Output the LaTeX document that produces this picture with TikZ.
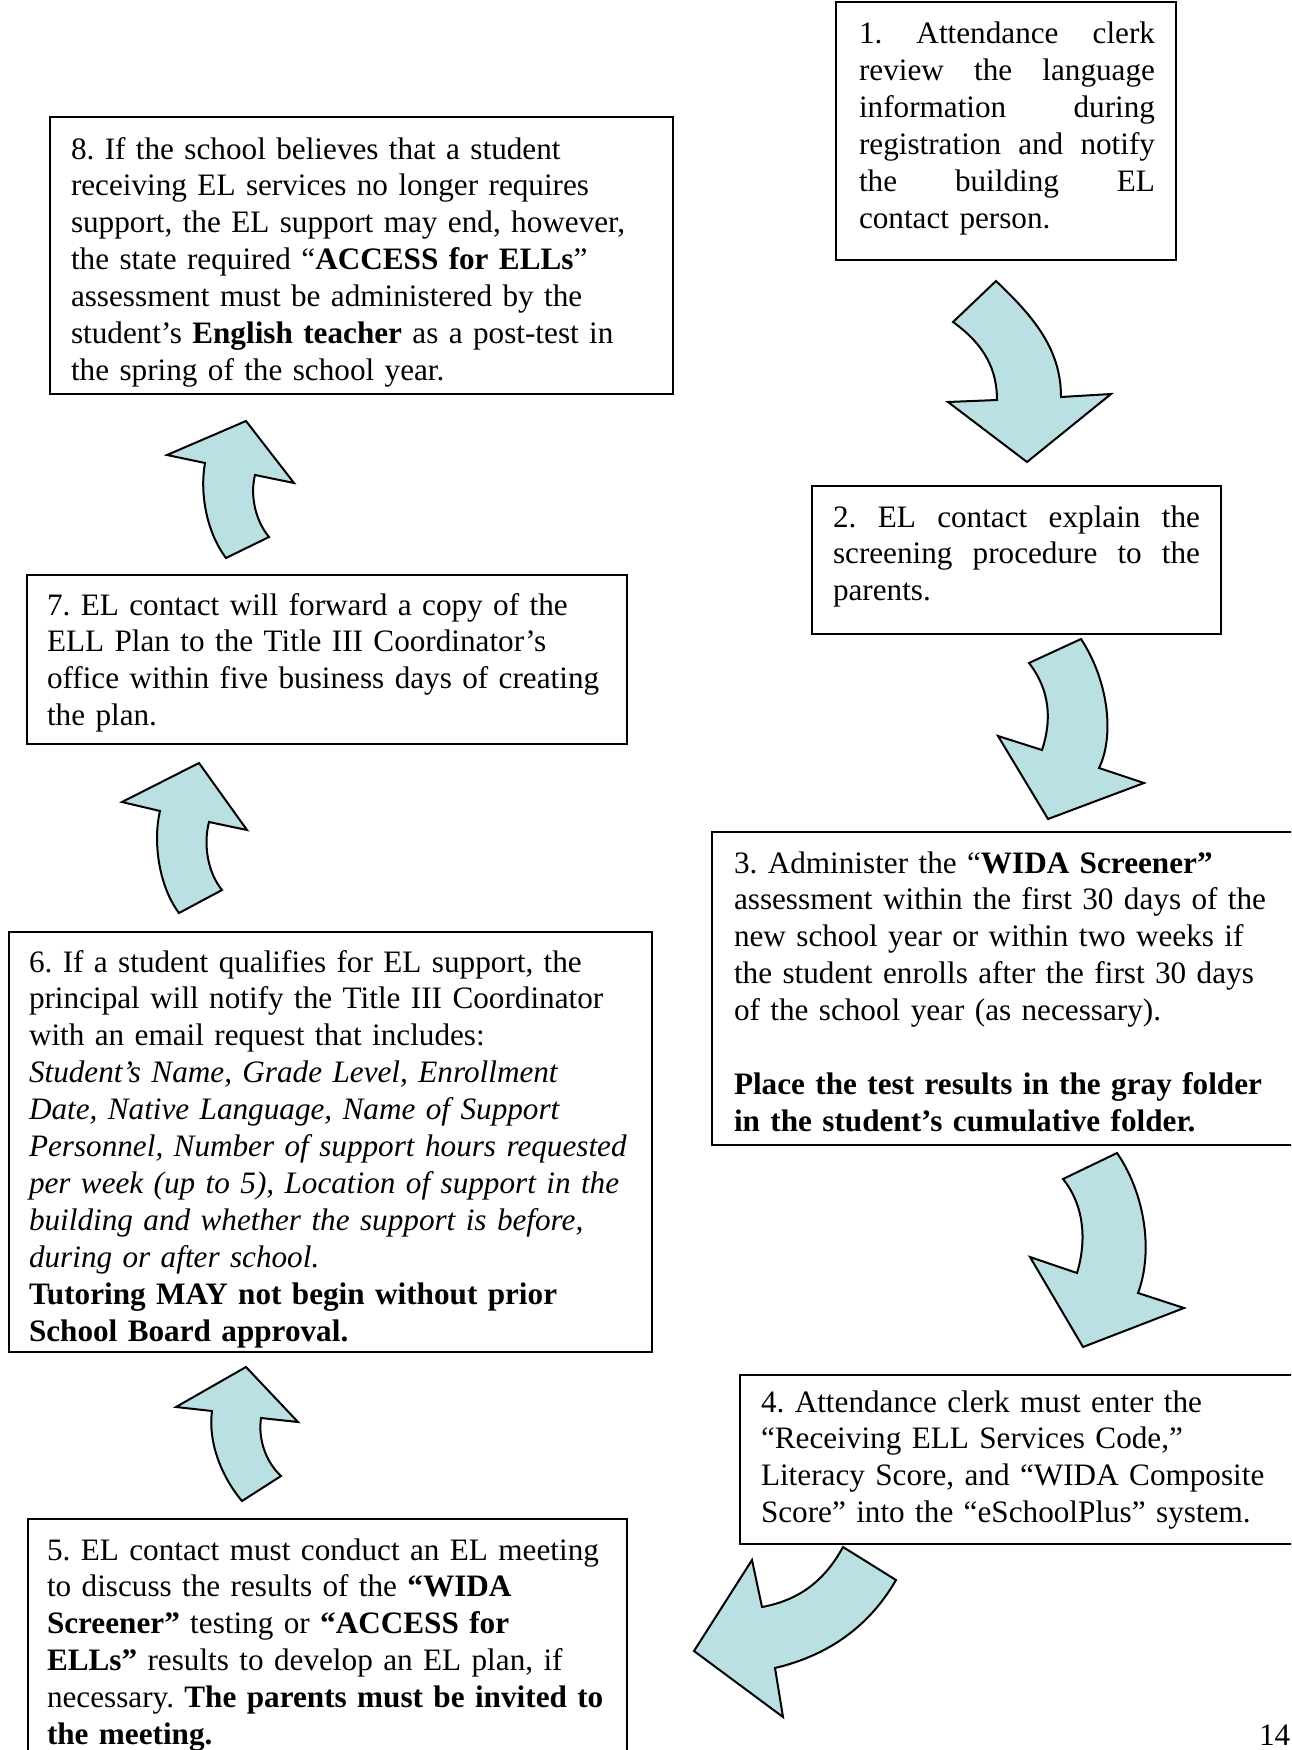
\documentclass[tikz,border=0pt]{standalone}
\usepackage{fontspec}
\setmainfont{Liberation Serif}
\usetikzlibrary{fit}
\definecolor{arrowblue}{RGB}{187,224,227}
\tikzset{
  framebox/.style={draw=black, line width=0.9pt, inner sep=0pt, outer sep=0pt, fill=none},
  bodytext/.style={anchor=base west, inner sep=0pt, outer sep=0pt, align=left,
    font=\fontsize{15.6pt}{18.45pt}\selectfont\frenchspacing},
  justtext/.style={anchor=base west, inner sep=0pt, outer sep=0pt, align=left,
    font=\fontsize{15.6pt}{18.45pt}\selectfont\frenchspacing},
  bluearrow/.style={fill=arrowblue, draw=black, line width=1pt, line join=miter}
}
\newcommand{\jline}[2]{\leavevmode\hbox to #1{#2}}
\begin{document}
\begin{tikzpicture}[x=0.5pt, y=-0.5pt]
\useasboundingbox (0,0) rectangle (1291,1750);
\clip (0,0) rectangle (1291,1750);
\fill[white] (0,0) rectangle (1291,1750);

% boxes
\node[framebox, fit={(836,2) (1176,260)}] (b1) {};
\node[framebox, fit={(812,486) (1221,634)}] (b2) {};
\node[framebox, fit={(712,832) (1310,1145)}] (b3) {};
\node[framebox, fit={(740,1375) (1310,1544)}] (b4) {};
\node[framebox, fit={(28,1519) (627,1800)}] (b5) {};
\node[framebox, fit={(9,932) (652,1352)}] (b6) {};
\node[framebox, fit={(27,575) (627,744)}] (b7) {};
\node[framebox, fit={(50,117) (673,394)}] (b8) {};

% texts
\node[justtext, text width=148pt] (t1) at (859,44) {%
\jline{148pt}{1.\hfill Attendance\hfill clerk}\\
\jline{148pt}{review\hfill the\hfill language}\\
\jline{148pt}{information\hfill during}\\
\jline{148pt}{registration\hfill and\hfill notify}\\
\jline{148pt}{the\hfill building\hfill EL}\\
contact person.};

\node[justtext, text width=183.5pt] (t2) at (833,527) {%
\jline{183.5pt}{2.\hfill EL\hfill contact\hfill explain\hfill the}\\
\jline{183.5pt}{screening\hfill procedure\hfill to\hfill the}\\
parents.};

\node[bodytext, text width=285pt] (t3) at (734,873) {%
3. Administer the “\textbf{WIDA Screener”}\\
assessment within the first 30 days of the\\
new school year or within two weeks if\\
the student enrolls after the first 30 days\\
of the school year (as necessary).\\[18.45pt]
\textbf{Place the test results in the gray folder}\\
\textbf{in the student’s cumulative folder.}};

\node[bodytext, text width=270pt] (t4) at (761,1412) {%
4. Attendance clerk must enter the\\
“Receiving ELL Services Code,”\\
Literacy Score, and “WIDA Composite\\
Score” into the “eSchoolPlus” system.};

\node[bodytext, text width=290pt] (t5) at (47,1560) {%
5. EL contact must conduct an EL meeting\\
to discuss the results of the \textbf{“WIDA}\\
\textbf{Screener”} testing or \textbf{“ACCESS for}\\
\textbf{ELLs”} results to develop an EL plan, if\\
necessary. \textbf{The parents must be invited to}\\
\textbf{the meeting.}};

\node[bodytext, text width=310pt] (t6) at (29,972) {%
6. If a student qualifies for EL support, the\\
principal will notify the Title III Coordinator\\
with an email request that includes:\\
\textit{Student’s Name, Grade Level, Enrollment}\\
\textit{Date, Native Language, Name of Support}\\
\textit{Personnel, Number of support hours requested}\\
\textit{per week (up to 5), Location of support in the}\\
\textit{building and whether the support is before,}\\
\textit{during or after school.}\\
\textbf{Tutoring MAY not begin without prior}\\
\textbf{School Board approval.}};

\node[bodytext, text width=290pt] (t7) at (47,615) {%
7. EL contact will forward a copy of the\\
ELL Plan to the Title III Coordinator’s\\
office within five business days of creating\\
the plan.};

\node[bodytext, text width=300pt] (t8) at (71,159) {%
8. If the school believes that a student\\
receiving EL services no longer requires\\
support, the EL support may end, however,\\
the state required “\textbf{ACCESS for ELLs}”\\
assessment must be administered by the\\
student’s \textbf{English teacher} as a post-test in\\
the spring of the school year.};

\node[bodytext] (pg) at (1259,1745) {14};

% block arrows
% 1 -> 2
\draw[bluearrow] (953,322) -- (996,281) .. controls (1035,318) and (1061,350) .. (1061,397)
  -- (1111,394) -- (1027,462) -- (948,402) -- (997,400)
  .. controls (997,370) and (985,345) .. (953,322) -- cycle;
% 2 -> 3
\draw[bluearrow] (1029,663) -- (1081,639) .. controls (1108,680) and (1115,735) .. (1099,768)
  -- (1144,783) -- (1048,819) -- (998,736) -- (1042,750)
  .. controls (1052,720) and (1050,690) .. (1029,663) -- cycle;
% 3 -> 4
\draw[bluearrow] (1063,1179) -- (1117,1153) .. controls (1144,1192) and (1154,1250) .. (1138,1293)
  -- (1184,1308) -- (1083,1347) -- (1030,1257) -- (1077,1273)
  .. controls (1087,1240) and (1084,1205) .. (1063,1179) -- cycle;
% 4 -> 5
\draw[bluearrow] (843,1547) -- (896,1580) .. controls (870,1625) and (830,1655) .. (775,1668)
  -- (783,1717) -- (694,1651) -- (752,1560) -- (762,1607)
  .. controls (800,1600) and (825,1580) .. (843,1547) -- cycle;
% 5 -> 6
\draw[bluearrow] (242,1501) -- (281,1476) .. controls (266,1462) and (258,1440) .. (261,1418)
  -- (298,1422) -- (246,1367) -- (176,1407) -- (212,1411)
  .. controls (208,1440) and (220,1475) .. (242,1501) -- cycle;
% 6 -> 7
\draw[bluearrow] (179,913) -- (222,890) .. controls (208,873) and (203,845) .. (209,822)
  -- (247,830) -- (199,763) -- (122,802) -- (160,811)
  .. controls (153,840) and (158,885) .. (179,913) -- cycle;
% 7 -> 8
\draw[bluearrow] (226,558) -- (269,537) .. controls (255,520) and (250,495) .. (255,475)
  -- (294,483) -- (246,421) -- (167,455) -- (205,463)
  .. controls (200,490) and (205,530) .. (226,558) -- cycle;
\end{tikzpicture}
\end{document}
